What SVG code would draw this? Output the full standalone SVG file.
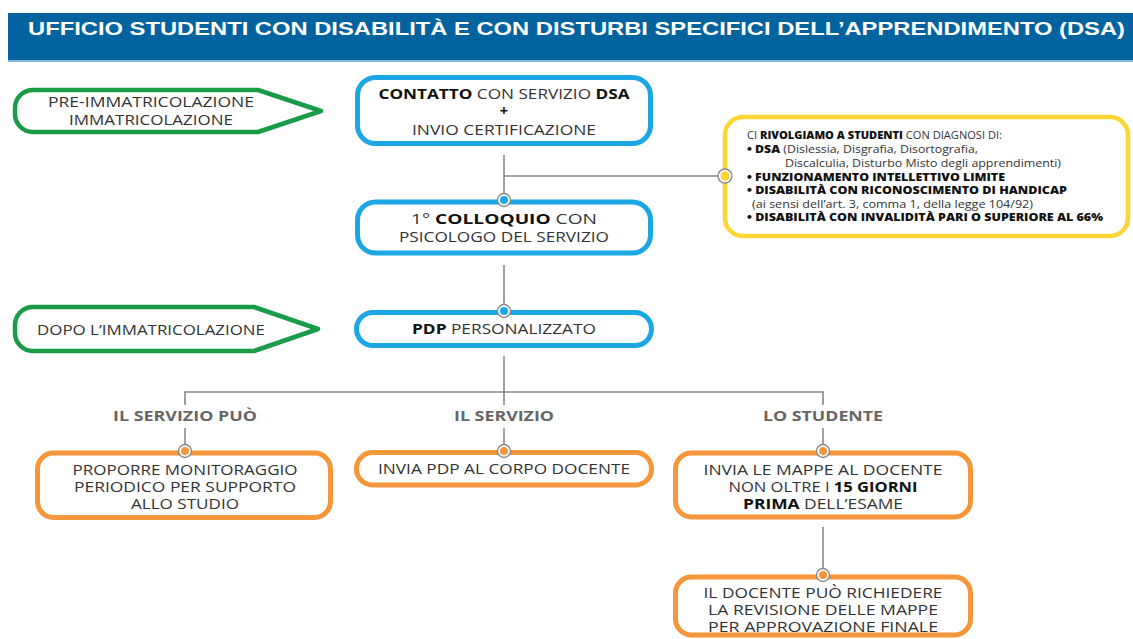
<svg xmlns="http://www.w3.org/2000/svg" width="1133" height="639" viewBox="0 0 1133 639">
<style>
.t{font-family:"Open Sans","Liberation Sans",sans-serif;font-size:14.5px;fill:#333;text-anchor:middle}
.b{font-weight:700;fill:#111}
.lbl{font-family:"Open Sans","Liberation Sans",sans-serif;font-size:14px;font-weight:700;fill:#666;text-anchor:middle}
.y{font-family:"Open Sans","Liberation Sans",sans-serif;font-size:10.5px;fill:#333}
.yb{font-weight:800;fill:#111}
.blue{fill:#fff;stroke:#1aa7e3;stroke-width:5}
.orange{fill:#fff;stroke:#f5963a;stroke-width:5}
.green{fill:#fff;stroke:#1a9b48;stroke-width:4.5;stroke-linejoin:round}
.yellow{fill:#fff;stroke:#fcd634;stroke-width:4.5}
.ln{stroke:#8a8a8a;stroke-width:1.6;fill:none}
.dot{fill:#fff;stroke:#8a8a8a;stroke-width:1.4}
</style>
<rect x="0" y="0" width="1133" height="639" fill="#fff"/>
<g id="header">
<rect x="8" y="13" width="1125" height="48" fill="#03639f"/>
<rect x="8" y="60" width="1125" height="2" fill="#86b5dd"/>
<text x="28" y="35" font-family="'Liberation Sans',Arial,sans-serif" font-size="17.5" font-weight="700" fill="#fff" textLength="1097" lengthAdjust="spacingAndGlyphs">UFFICIO STUDENTI CON DISABILITÀ E CON DISTURBI SPECIFICI DELL’APPRENDIMENTO (DSA)</text>
</g>
<g id="connectors">
<path class="ln" d="M504 155 V194 M504 176 H718"/>
<path class="ln" d="M504 265 V305"/>
<path class="ln" d="M504 356 V405 M185 405 V392 H823 V405"/>
<path class="ln" d="M185 428 V445 M504 428 V445 M823 428 V445"/>
<path class="ln" d="M823 527 V569"/>
</g>
<g id="phase-pre">
<path class="green" d="M33 90 H258 L321 111 L258 132 H33 A18 18 0 0 1 15 114 V108 A18 18 0 0 1 33 90 Z"/>
<text class="t" x="151" y="107" textLength="206" lengthAdjust="spacingAndGlyphs">PRE-IMMATRICOLAZIONE</text>
<text class="t" x="151" y="125" textLength="164" lengthAdjust="spacingAndGlyphs">IMMATRICOLAZIONE</text>
</g>
<g id="phase-post">
<path class="green" d="M33 307 H254 L318 329 L254 351 H33 A18 18 0 0 1 15 333 V325 A18 18 0 0 1 33 307 Z"/>
<text class="t" x="151" y="335" textLength="228" lengthAdjust="spacingAndGlyphs">DOPO L’IMMATRICOLAZIONE</text>
</g>
<g id="contatto">
<rect class="blue" x="357.5" y="77.5" width="293" height="66" rx="18"/>
<text class="t" x="504" y="99" textLength="251" lengthAdjust="spacingAndGlyphs"><tspan class="b">CONTATTO</tspan> CON SERVIZIO <tspan class="b">DSA</tspan></text>
<text class="t b" x="504" y="116" font-size="13">+</text>
<text class="t" x="504" y="135" textLength="184" lengthAdjust="spacingAndGlyphs">INVIO CERTIFICAZIONE</text>
</g>
<g id="colloquio">
<rect class="blue" x="357.5" y="202" width="293" height="51" rx="18"/>
<text class="t" x="504" y="224" textLength="186" lengthAdjust="spacingAndGlyphs">1° <tspan class="b">COLLOQUIO</tspan> CON</text>
<text class="t" x="504" y="242" textLength="210" lengthAdjust="spacingAndGlyphs">PSICOLOGO DEL SERVIZIO</text>
<circle class="dot" cx="504" cy="200" r="6.5"/><circle cx="504" cy="200" r="4" fill="#1aa7e3"/>
</g>
<g id="target">
<rect class="yellow" x="725" y="117" width="403" height="119" rx="18"/>
<text class="y" x="747" y="139" textLength="255" lengthAdjust="spacingAndGlyphs">CI <tspan class="yb">RIVOLGIAMO A STUDENTI</tspan> CON DIAGNOSI DI:</text>
<text class="y" x="747" y="153" textLength="231" lengthAdjust="spacingAndGlyphs"><tspan class="yb">• DSA</tspan> (Dislessia, Disgrafia, Disortografia,</text>
<text class="y" x="785" y="167" textLength="276" lengthAdjust="spacingAndGlyphs">Discalculia, Disturbo Misto degli apprendimenti)</text>
<text class="y yb" x="747" y="181" textLength="258" lengthAdjust="spacingAndGlyphs">• FUNZIONAMENTO INTELLETTIVO LIMITE</text>
<text class="y yb" x="747" y="194" textLength="320" lengthAdjust="spacingAndGlyphs">• DISABILITÀ CON RICONOSCIMENTO DI HANDICAP</text>
<text class="y" x="752" y="208" textLength="281" lengthAdjust="spacingAndGlyphs">(ai sensi dell’art. 3, comma 1, della legge 104/92)</text>
<text class="y yb" x="747" y="221" textLength="356" lengthAdjust="spacingAndGlyphs">• DISABILITÀ CON INVALIDITÀ PARI O SUPERIORE AL 66%</text>
<circle class="dot" cx="725" cy="176" r="7"/><circle cx="725" cy="176" r="4.5" fill="#fcd634"/>
</g>
<g id="pdp">
<rect class="blue" x="356.5" y="312.5" width="295" height="33" rx="16.5"/>
<text class="t" x="504" y="334" textLength="184" lengthAdjust="spacingAndGlyphs"><tspan class="b">PDP</tspan> PERSONALIZZATO</text>
<circle class="dot" cx="504" cy="311" r="6.5"/><circle cx="504" cy="311" r="4" fill="#1aa7e3"/>
</g>
<g id="labels">
<text class="lbl" x="185" y="421" textLength="144" lengthAdjust="spacingAndGlyphs">IL SERVIZIO PUÒ</text>
<text class="lbl" x="504" y="421" textLength="100" lengthAdjust="spacingAndGlyphs">IL SERVIZIO</text>
<text class="lbl" x="823" y="421" textLength="120" lengthAdjust="spacingAndGlyphs">LO STUDENTE</text>
</g>
<g id="monitoraggio">
<rect class="orange" x="37.5" y="453" width="293" height="64.5" rx="16"/>
<text class="t" x="185" y="475" textLength="225" lengthAdjust="spacingAndGlyphs">PROPORRE MONITORAGGIO</text>
<text class="t" x="185" y="492" textLength="222" lengthAdjust="spacingAndGlyphs">PERIODICO PER SUPPORTO</text>
<text class="t" x="185" y="509" textLength="108" lengthAdjust="spacingAndGlyphs">ALLO STUDIO</text>
<circle class="dot" cx="185" cy="451" r="6.5"/><circle cx="185" cy="451" r="4" fill="#f5963a"/>
</g>
<g id="invia-pdp">
<rect class="orange" x="356.5" y="452.5" width="295" height="32.5" rx="16"/>
<text class="t" x="504" y="474" textLength="252" lengthAdjust="spacingAndGlyphs">INVIA PDP AL CORPO DOCENTE</text>
<circle class="dot" cx="504" cy="451" r="6.5"/><circle cx="504" cy="451" r="4" fill="#f5963a"/>
</g>
<g id="mappe">
<rect class="orange" x="675.5" y="453" width="295" height="64" rx="16"/>
<text class="t" x="823" y="475" textLength="239" lengthAdjust="spacingAndGlyphs">INVIA LE MAPPE AL DOCENTE</text>
<text class="t" x="823" y="492" textLength="189" lengthAdjust="spacingAndGlyphs">NON OLTRE I <tspan class="b">15 GIORNI</tspan></text>
<text class="t" x="823" y="509" textLength="160" lengthAdjust="spacingAndGlyphs"><tspan class="b">PRIMA</tspan> DELL’ESAME</text>
<circle class="dot" cx="823" cy="451" r="6.5"/><circle cx="823" cy="451" r="4" fill="#f5963a"/>
</g>
<g id="revisione">
<rect class="orange" x="675.5" y="577" width="295" height="58" rx="16"/>
<text class="t" x="823" y="598" textLength="239" lengthAdjust="spacingAndGlyphs">IL DOCENTE PUÒ RICHIEDERE</text>
<text class="t" x="823" y="615" textLength="230" lengthAdjust="spacingAndGlyphs">LA REVISIONE DELLE MAPPE</text>
<text class="t" x="823" y="632" textLength="230" lengthAdjust="spacingAndGlyphs">PER APPROVAZIONE FINALE</text>
<circle class="dot" cx="823" cy="575" r="6.5"/><circle cx="823" cy="575" r="4" fill="#f5963a"/>
</g>
</svg>
